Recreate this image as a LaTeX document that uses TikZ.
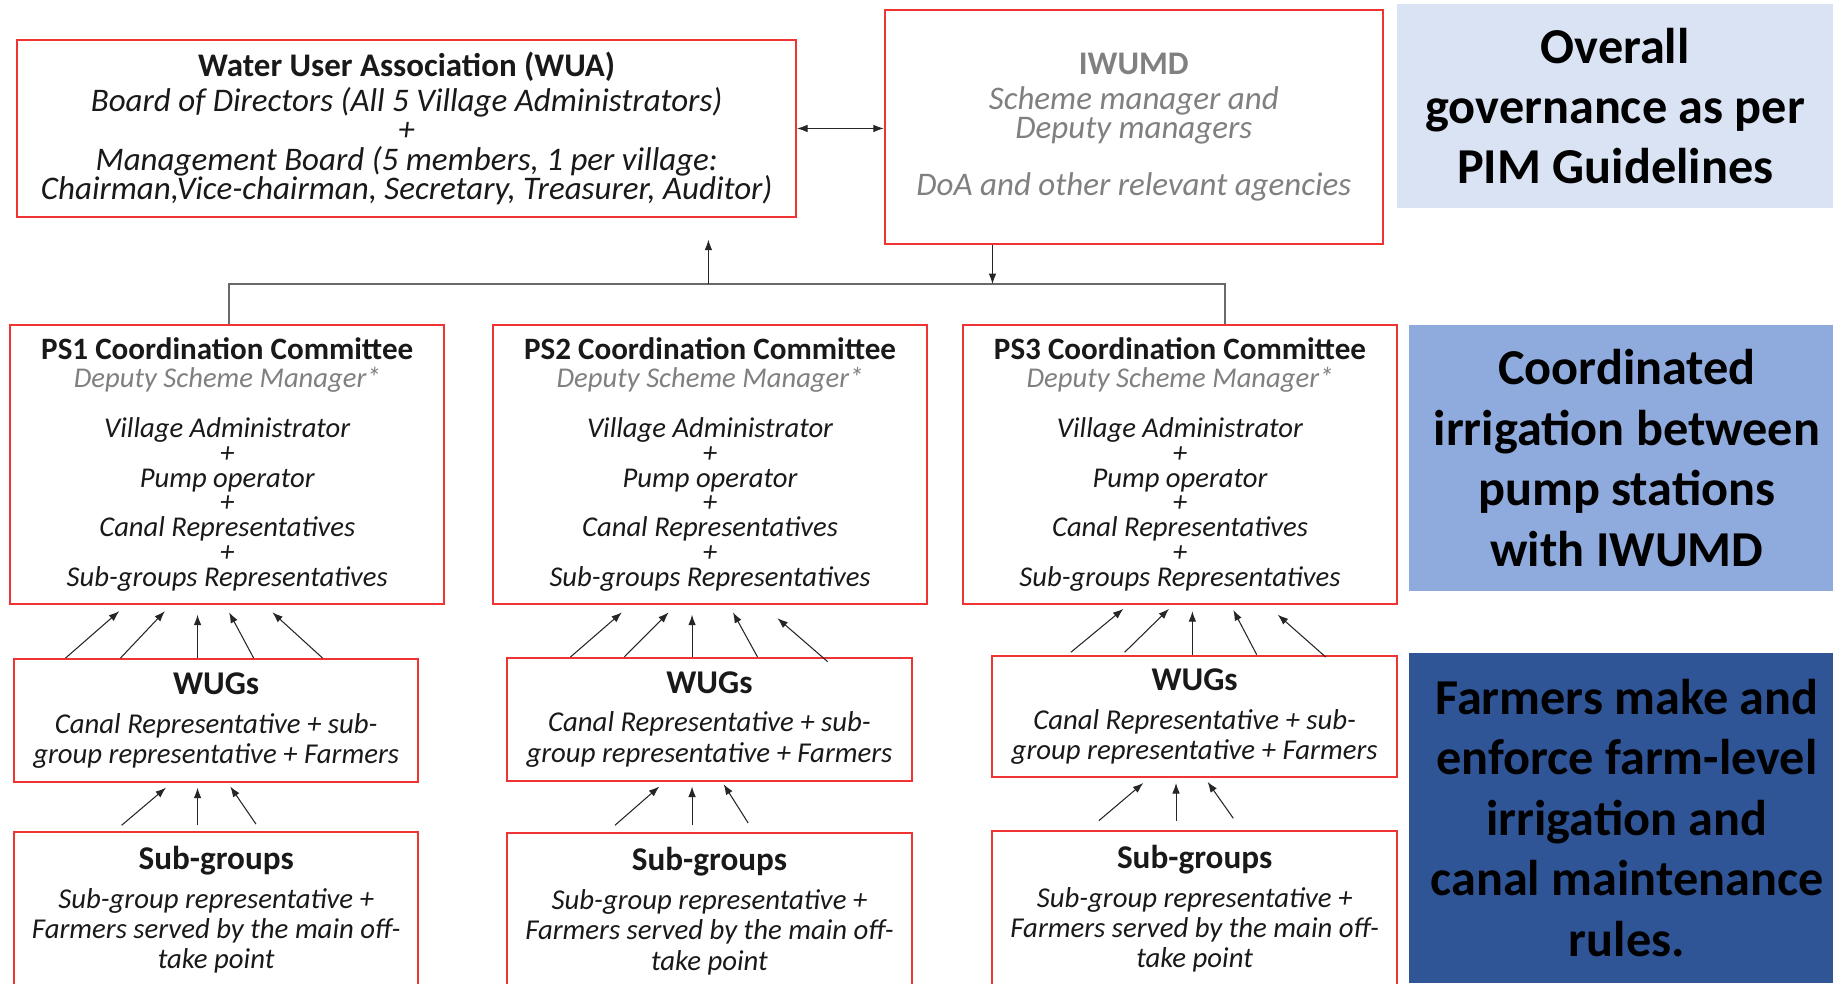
\documentclass[tikz,border=0pt]{standalone}
\usepackage{fontspec}
\setmainfont{Carlito}
\usetikzlibrary{arrows.meta}
\definecolor{boxred}{RGB}{240,52,52}
\definecolor{txt}{RGB}{25,25,25}
\definecolor{gtxt}{RGB}{128,128,128}
\definecolor{conncol}{RGB}{105,105,105}
\definecolor{pone}{HTML}{DAE3F3}
\definecolor{ptwo}{HTML}{8FAADC}
\definecolor{pthree}{HTML}{2F5597}
\newcommand\myfs[2]{\fontsize{#1}{#2}\selectfont\lineskiplimit=-100pt\lineskip=0pt\relax}
\begin{document}
\begin{tikzpicture}[x=1pt,y=-1pt,
  box/.style={draw=boxred,line width=1.8pt,fill=white,align=center,inner sep=0pt,anchor=north west,text=txt},
  panel/.style={align=center,inner sep=0pt,anchor=north west,text=black,font=\myfs{43}{51.7}\bfseries},
  conn/.style={draw=conncol,line width=1.3pt},
  arr/.style={draw=black!85,line width=0.9pt,-{Latex[length=9pt,width=6.5pt]}},
  dblarr/.style={draw=black!85,line width=0.9pt,{Latex[length=9pt,width=6.5pt]}-{Latex[length=9pt,width=6.5pt]}},
  pstext/.style={font=\myfs{24.5}{21.3}\itshape},
  wugtext/.style={font=\myfs{24.6}{26}\itshape}
]
\useasboundingbox (0,0) rectangle (1568,841);
\clip (0,0) rectangle (1568,841);
\fill[white] (0,0) rectangle (1568,841);

% top level
\node[box,minimum width=666pt,minimum height=152pt,font=\myfs{28.2}{25}\itshape] (wua) at (14,33)
 {{\upshape\bfseries Water User Association (WUA)}\\[5pt]
  Board of Directors (All 5 Village Administrators)\\
  +\\
  Management Board (5 members, 1 per village:\\
  Chairman,Vice-chairman, Secretary, Treasurer, Auditor)};
\node[box,minimum width=426pt,minimum height=200pt,font=\myfs{28.2}{24.5}\itshape,text=gtxt] (iwumd) at (756,8)
 {{\upshape\bfseries IWUMD}\\[5.5pt]
  Scheme manager and\\
  Deputy managers\\[25pt]
  DoA and other relevant agencies};

% panels
\node[panel,fill=pone,minimum width=373pt,minimum height=175pt] (p1) at (1195,3)
 {Overall\\governance as per\\PIM Guidelines};
\node[panel,fill=ptwo,minimum width=373pt,minimum height=227pt] (p2) at (1205,278)
 {Coordinated\\irrigation between\\pump stations\\with IWUMD};
\node[panel,fill=pthree,minimum width=373pt,minimum height=283pt] (p3) at (1205,558)
 {Farmers make and\\enforce farm-level\\irrigation and\\canal maintenance\\rules.};

% PS committees
\foreach \n/\x in {1/8,2/421,3/823}{
\node[box,pstext,minimum width=371pt,minimum height=239pt] (ps\n) at (\x,277)
 {{\myfs{26.6}{21.3}\upshape\bfseries PS\n\ Coordination Committee}\\[2.7pt]
  {\color{gtxt}Deputy Scheme Manager*}\\[21.3pt]
  Village Administrator\\ +\\ Pump operator\\ +\\ Canal Representatives\\ +\\ Sub-groups Representatives};
}

% WUGs
\node[box,wugtext,minimum width=346pt,minimum height=105pt] (wug1) at (11,563)
 {{\myfs{28.4}{26}\upshape\bfseries WUGs}\\[7pt]Canal Representative + sub-\\group representative + Farmers};
\node[box,wugtext,minimum width=346pt,minimum height=105pt] (wug2) at (433,562)
 {{\myfs{28.4}{26}\upshape\bfseries WUGs}\\[7pt]Canal Representative + sub-\\group representative + Farmers};
\node[box,wugtext,minimum width=346pt,minimum height=104pt] (wug3) at (848,560)
 {{\myfs{28.4}{26}\upshape\bfseries WUGs}\\[7pt]Canal Representative + sub-\\group representative + Farmers};

% Sub-groups
\node[box,wugtext,minimum width=346pt,minimum height=133pt] (sg1) at (11,711)
 {{\myfs{28.4}{26}\upshape\bfseries Sub-groups}\\[7pt]Sub-group representative +\\Farmers served by the main off-\\take point};
\node[box,wugtext,minimum width=346pt,minimum height=133pt] (sg2) at (433,712)
 {{\myfs{28.4}{26}\upshape\bfseries Sub-groups}\\[7pt]Sub-group representative +\\Farmers served by the main off-\\take point};
\node[box,wugtext,minimum width=346pt,minimum height=133pt] (sg3) at (848,710)
 {{\myfs{28.4}{26}\upshape\bfseries Sub-groups}\\[7pt]Sub-group representative +\\Farmers served by the main off-\\take point};

% connectors top
\draw[dblarr] (wua.east) -- (wua.east -| iwumd.west);
\coordinate (busL) at (196,243);
\coordinate (busR) at (1048,243);
\draw[conn] (busL |- ps1.north) -- (busL) -- (busR) -- (busR |- ps3.north);
\coordinate (upTip) at (606,205);
\draw[arr] (upTip |- busL) -- (upTip);
\coordinate (dn) at ([xshift=93pt]iwumd.south west);
\draw[arr] (dn) -- (dn |- busL);

% WUGs -> PS
\draw[arr] ([shift={(45,0)}]wug1.north west) -- ([shift={(94,5)}]ps1.south west);
\draw[arr] ([shift={(92,0)}]wug1.north west) -- ([shift={(133,5)}]ps1.south west);
\draw[arr] ([shift={(158,0)}]wug1.north west) -- ([shift={(161,8)}]ps1.south west);
\draw[arr] ([shift={(206,0)}]wug1.north west) -- ([shift={(188,6)}]ps1.south west);
\draw[arr] ([shift={(265,0)}]wug1.north west) -- ([shift={(225,6)}]ps1.south west);

\draw[arr] ([shift={(55,0)}]wug2.north west) -- ([shift={(111,6)}]ps2.south west);
\draw[arr] ([shift={(101,0)}]wug2.north west) -- ([shift={(151,6)}]ps2.south west);
\draw[arr] ([shift={(159,0)}]wug2.north west) -- ([shift={(171,8)}]ps2.south west);
\draw[arr] ([shift={(215,0)}]wug2.north west) -- ([shift={(206,6)}]ps2.south west);
\draw[arr] ([shift={(275,4)}]wug2.north west) -- ([shift={(244,11)}]ps2.south west);

\draw[arr] ([shift={(68,-2)}]wug3.north west) -- ([shift={(138,3)}]ps3.south west);
\draw[arr] ([shift={(114,-2)}]wug3.north west) -- ([shift={(177,3)}]ps3.south west);
\draw[arr] ([shift={(172,0)}]wug3.north west) -- ([shift={(197,5)}]ps3.south west);
\draw[arr] ([shift={(227,0)}]wug3.north west) -- ([shift={(232,4)}]ps3.south west);
\draw[arr] ([shift={(286,2)}]wug3.north west) -- ([shift={(270,8)}]ps3.south west);

% Sub-groups -> WUGs
\draw[arr] ([shift={(93,-5)}]sg1.north west) -- ([shift={(131,4)}]wug1.south west);
\draw[arr] ([shift={(158,-5)}]sg1.north west) -- ([shift={(158,4)}]wug1.south west);
\draw[arr] ([shift={(208,-6)}]sg1.north west) -- ([shift={(186,3)}]wug1.south west);

\draw[arr] ([shift={(93,-6)}]sg2.north west) -- ([shift={(131,4)}]wug2.south west);
\draw[arr] ([shift={(159,-6)}]sg2.north west) -- ([shift={(159,4)}]wug2.south west);
\draw[arr] ([shift={(207,-8)}]sg2.north west) -- ([shift={(186,2)}]wug2.south west);

\draw[arr] ([shift={(92,-8)}]sg3.north west) -- ([shift={(130,4)}]wug3.south west);
\draw[arr] ([shift={(158,-8)}]sg3.north west) -- ([shift={(158,4)}]wug3.south west);
\draw[arr] ([shift={(207,-10)}]sg3.north west) -- ([shift={(185,3)}]wug3.south west);
\end{tikzpicture}
\end{document}
